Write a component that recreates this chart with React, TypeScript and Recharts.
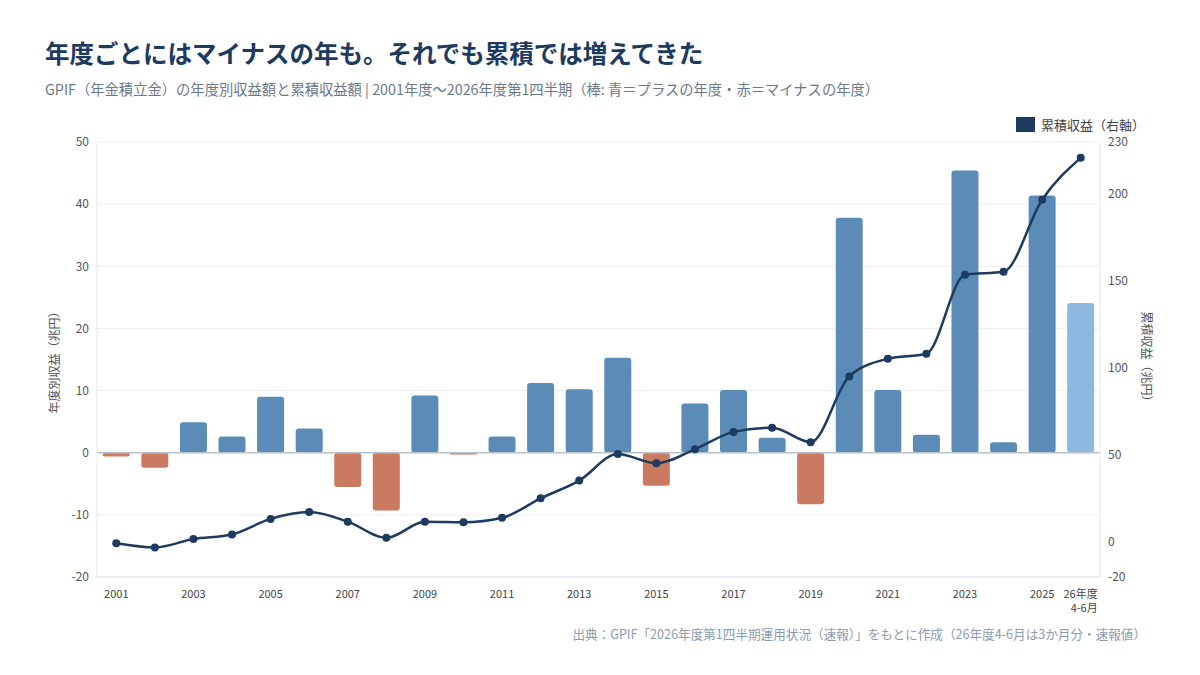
import React from 'react';
import {
  ComposedChart, Bar, Line, XAxis, YAxis, CartesianGrid, ReferenceLine, Cell,
} from 'recharts';

const FONT = '"Noto Sans CJK JP", "Noto Sans", sans-serif';

const YEARS = [
  '2001', '2002', '2003', '2004', '2005', '2006', '2007', '2008', '2009', '2010',
  '2011', '2012', '2013', '2014', '2015', '2016', '2017', '2018', '2019', '2020',
  '2021', '2022', '2023', '2024', '2025', '26年度\n4-6月',
];

// 年度別収益（兆円）
const ANNUAL = [
  -0.6, -2.4, 4.9, 2.6, 9.0, 3.9, -5.5, -9.3, 9.2, -0.3,
  2.6, 11.2, 10.2, 15.3, -5.3, 7.9, 10.1, 2.4, -8.3, 37.8,
  10.1, 2.9, 45.4, 1.7, 41.4, 24.1,
];

// 累積収益（兆円）
const CUMULATIVE = [
  -0.6, -3.0, 1.8, 4.4, 13.4, 17.3, 11.8, 2.5, 11.7, 11.4,
  14.0, 25.2, 35.4, 50.7, 45.4, 53.4, 63.4, 65.8, 57.5, 95.3,
  105.4, 108.3, 153.7, 155.4, 196.8, 220.9,
];

const LEFT_TICKS = [-20, -10, 0, 10, 20, 30, 40, 50];
const RIGHT_TICKS = [-20, 0, 50, 100, 150, 200, 230];

const BLUE = '#5b8cb8';
const RED = '#c97a60';
const LIGHT = '#8fb8e0';
const NAVY = '#1d3a5f';

const data = YEARS.map((year, i) => ({ year, annual: ANNUAL[i], cumulative: CUMULATIVE[i] }));

function YearTick({ x, y, payload, index }: any) {
  const last = index === YEARS.length - 1;
  if (index % 2 === 1 && !last) return null;
  const lines = String(payload.value).split('\n');
  return (
    <text x={x} y={y + 13} textAnchor={last ? 'end' : 'middle'} fontSize={11} fill="#444" fontFamily={FONT}>
      {lines.map((l, k) => (
        <tspan key={k} x={last ? x + 17 : x} dy={k === 0 ? 0 : 14}>{l}</tspan>
      ))}
    </text>
  );
}

export default function App() {
  return (
    <div style={{ position: 'absolute', left: 0, top: 0, width: 1200, height: 675, background: '#fff', fontFamily: FONT }}>
      <div style={{ position: 'absolute', left: 45, top: 35, fontSize: 24.5, fontWeight: 700, color: NAVY, whiteSpace: 'nowrap' }}>
        年度ごとにはマイナスの年も。それでも累積では増えてきた
      </div>
      <div style={{ position: 'absolute', left: 45, top: 78, fontSize: 14.3, color: '#6b7888', whiteSpace: 'nowrap' }}>
        GPIF（年金積立金）の年度別収益額と累積収益額 | 2001年度〜2026年度第1四半期（棒: 青＝プラスの年度・赤＝マイナスの年度）
      </div>
      <div style={{ position: 'absolute', left: 1016, top: 115, display: 'flex', alignItems: 'center', fontSize: 13, color: '#444', whiteSpace: 'nowrap' }}>
        <span style={{ display: 'inline-block', width: 19, height: 15, background: NAVY, marginRight: 6 }} />
        累積収益（右軸）
      </div>

      <ComposedChart
        width={1200}
        height={675}
        data={data}
        margin={{ top: 142, right: 40, bottom: 58, left: 37 }}
        barCategoryGap="15%"
        style={{ position: 'absolute', left: 0, top: 0 }}
      >
        <CartesianGrid yAxisId="left" vertical={false} stroke="#eeeeee" />
        <XAxis
          dataKey="year"
          interval={0}
          tick={<YearTick />}
          tickLine={false}
          axisLine={{ stroke: '#dde1e6' }}
          height={40}
        />
        <YAxis
          yAxisId="left"
          domain={[-20, 50]}
          ticks={LEFT_TICKS}
          allowDataOverflow
          width={60}
          tickLine={false}
          axisLine={{ stroke: '#e6e9ec' }}
          tick={{ fontSize: 12, fill: '#555', fontFamily: FONT }}
          label={{ value: '年度別収益（兆円）', angle: -90, position: 'insideLeft', offset: 18, style: { fontSize: 12, fill: '#555', fontFamily: FONT, textAnchor: 'middle' } }}
        />
        <YAxis
          yAxisId="right"
          orientation="right"
          domain={[-20, 230]}
          ticks={RIGHT_TICKS}
          allowDataOverflow
          width={60}
          tickLine={false}
          axisLine={{ stroke: '#e6e9ec' }}
          tick={{ fontSize: 12, fill: '#555', fontFamily: FONT }}
          label={{ value: '累積収益（兆円）', angle: 90, position: 'insideRight', offset: 14, style: { fontSize: 12, fill: '#555', fontFamily: FONT, textAnchor: 'middle' } }}
        />
        <ReferenceLine yAxisId="left" y={0} stroke="#b9c2cc" strokeWidth={1.5} />
        <Bar yAxisId="left" dataKey="annual" radius={3} isAnimationActive={false}>
          {data.map((d, i) => (
            <Cell key={i} fill={i === data.length - 1 ? LIGHT : d.annual < 0 ? RED : BLUE} />
          ))}
        </Bar>
        <Line
          yAxisId="right"
          type="monotone"
          dataKey="cumulative"
          stroke={NAVY}
          strokeWidth={2.5}
          dot={{ r: 4, fill: NAVY, stroke: NAVY, strokeWidth: 0 }}
          isAnimationActive={false}
        />
      </ComposedChart>

      <div style={{ position: 'absolute', right: 54, top: 624, fontSize: 12.6, color: '#8a9bb0', whiteSpace: 'nowrap' }}>
        出典：GPIF「2026年度第1四半期運用状況（速報）」をもとに作成（26年度4-6月は3か月分・速報値）
      </div>
    </div>
  );
}
